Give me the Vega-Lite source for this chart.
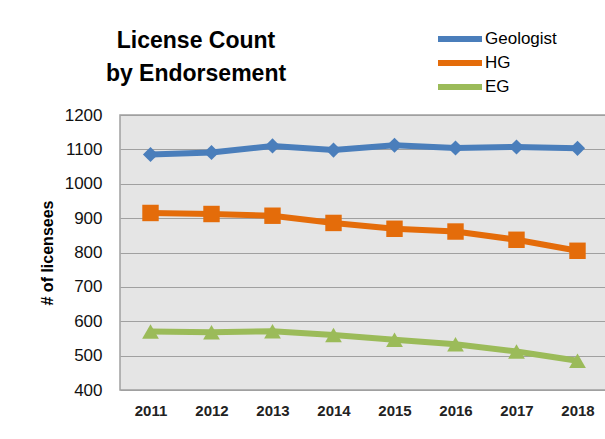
{
  "$schema": "https://vega.github.io/schema/vega-lite/v6.json",
  "autosize": "none",
  "padding": {"left": 120, "top": 115, "right": 0, "bottom": 49},
  "width": 488,
  "height": 275,
  "background": "white",
  "title": {
    "text": ["License Count", "by Endorsement"],
    "fontSize": 23,
    "font": "Liberation Sans",
    "fontWeight": "bold",
    "color": "#000000",
    "anchor": "start",
    "frame": "group",
    "align": "center",
    "dx": 76,
    "dy": 76,
    "offset": 20,
    "lineHeight": 33
  },
  "data": {
    "values": [
      {"year": "2011", "series": "Geologist", "count": 1085},
      {"year": "2012", "series": "Geologist", "count": 1091},
      {"year": "2013", "series": "Geologist", "count": 1110},
      {"year": "2014", "series": "Geologist", "count": 1098},
      {"year": "2015", "series": "Geologist", "count": 1112},
      {"year": "2016", "series": "Geologist", "count": 1104},
      {"year": "2017", "series": "Geologist", "count": 1107},
      {"year": "2018", "series": "Geologist", "count": 1103},
      {"year": "2011", "series": "HG", "count": 915},
      {"year": "2012", "series": "HG", "count": 912},
      {"year": "2013", "series": "HG", "count": 907},
      {"year": "2014", "series": "HG", "count": 886},
      {"year": "2015", "series": "HG", "count": 869},
      {"year": "2016", "series": "HG", "count": 861},
      {"year": "2017", "series": "HG", "count": 837},
      {"year": "2018", "series": "HG", "count": 805},
      {"year": "2011", "series": "EG", "count": 570},
      {"year": "2012", "series": "EG", "count": 568},
      {"year": "2013", "series": "EG", "count": 571},
      {"year": "2014", "series": "EG", "count": 560},
      {"year": "2015", "series": "EG", "count": 546},
      {"year": "2016", "series": "EG", "count": 533},
      {"year": "2017", "series": "EG", "count": 512},
      {"year": "2018", "series": "EG", "count": 485}
    ]
  },
  "encoding": {
    "x": {
      "field": "year",
      "type": "ordinal",
      "axis": {
        "title": null,
        "labelAngle": 0,
        "labelFontSize": 15,
        "labelFont": "Liberation Sans",
        "labelFontWeight": "bold",
        "labelColor": "#222222",
        "labelPadding": 13,
        "domain": false,
        "ticks": false,
        "grid": false
      }
    },
    "y": {
      "field": "count",
      "type": "quantitative",
      "scale": {"domain": [400, 1200], "nice": false, "zero": false},
      "axis": {
        "title": "# of licensees",
        "titleFontSize": 16,
        "titleFont": "Liberation Sans",
        "titleFontWeight": "bold",
        "titleColor": "#000000",
        "titlePadding": 9,
        "values": [400, 500, 600, 700, 800, 900, 1000, 1100, 1200],
        "format": "d",
        "labelFontSize": 17,
        "labelFont": "Liberation Sans",
        "labelColor": "#111111",
        "labelPadding": 18,
        "domain": false,
        "ticks": false,
        "grid": true,
        "gridColor": "#a0a0a0",
        "gridWidth": 1.2
      }
    }
  },
  "layer": [
    {
      "mark": {"type": "line", "strokeWidth": 6},
      "encoding": {
        "color": {
          "field": "series",
          "type": "nominal",
          "scale": {"domain": ["Geologist", "HG", "EG"], "range": ["#4a7ebb", "#e46c0a", "#9bbb59"]},
          "legend": {
            "orient": "none",
            "legendX": 315,
            "legendY": -85,
            "title": null,
            "symbolType": "stroke",
            "symbolStrokeWidth": 6,
            "symbolSize": 1936,
            "labelFontSize": 17,
            "labelFont": "Liberation Sans",
            "labelColor": "#000000",
            "clipHeight": 18,
            "rowPadding": 6,
            "labelOffset": 0
          }
        }
      }
    },
    {
      "transform": [{"filter": "datum.series === 'Geologist'"}],
      "mark": {"type": "point", "shape": "diamond", "filled": true, "opacity": 1, "size": 230, "strokeWidth": 0, "color": "#4a7ebb"}
    },
    {
      "transform": [{"filter": "datum.series === 'HG'"}],
      "mark": {"type": "point", "shape": "square", "filled": true, "opacity": 1, "size": 270, "strokeWidth": 0, "color": "#e46c0a"}
    },
    {
      "transform": [{"filter": "datum.series === 'EG'"}],
      "mark": {"type": "point", "shape": "triangle-up", "filled": true, "opacity": 1, "size": 280, "strokeWidth": 0, "color": "#9bbb59"}
    }
  ],
  "config": {
    "view": {"fill": "#e5e5e5", "stroke": "#a0a0a0", "strokeWidth": 1.5}
  }
}
